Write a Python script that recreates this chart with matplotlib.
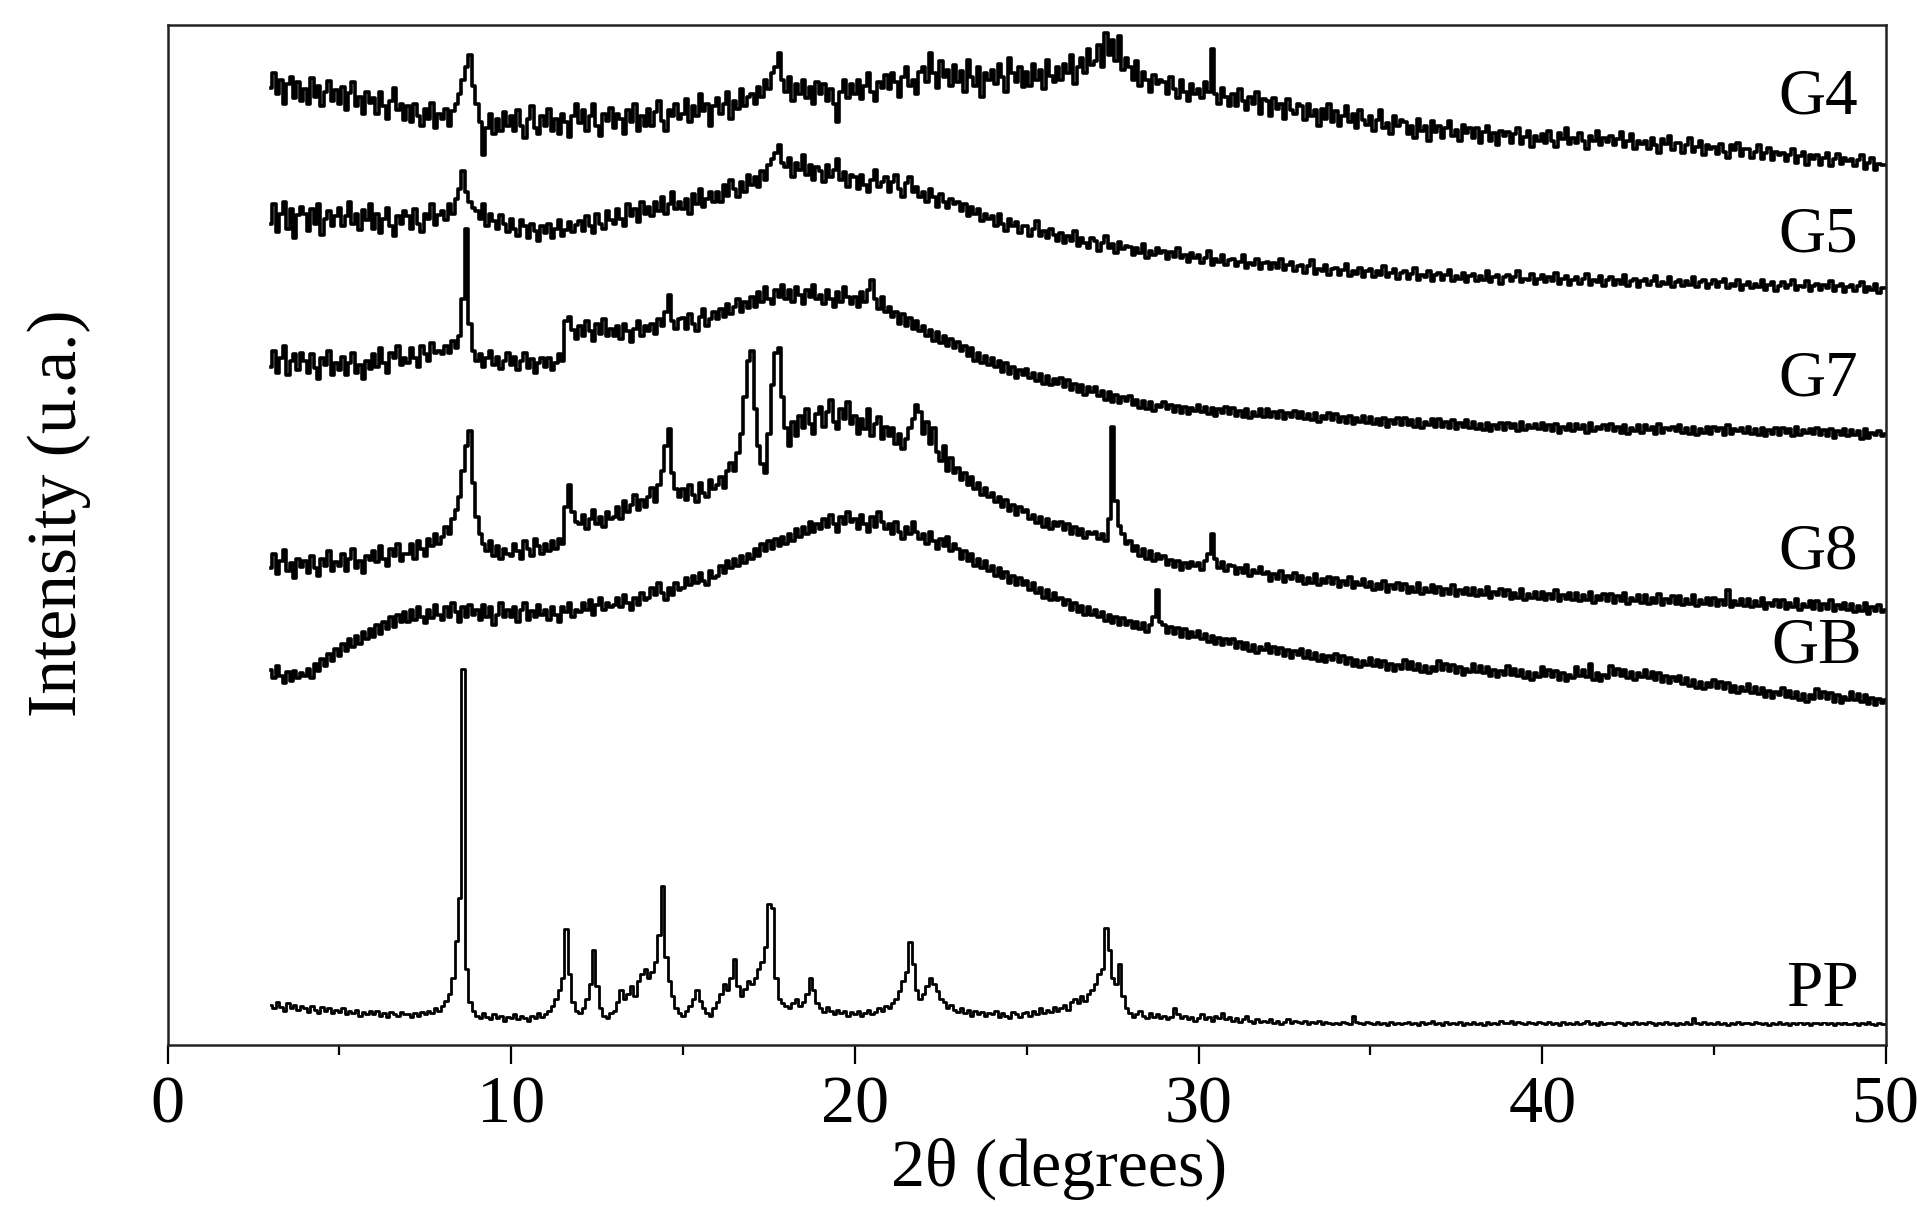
import numpy as np
import matplotlib
matplotlib.use('Agg')
import matplotlib.pyplot as plt

# XRD patterns, scan 3-50 deg 2theta, 0.1 deg step (offset stacked)
two_theta = np.linspace(3.0, 50.0, 471)

g4 = [
    783, 795, 778, 790, 770, 786, 792, 775, 788, 772,
    782, 770, 791, 776, 785, 768, 780, 789, 772, 781,
    770, 784, 765, 779, 788, 768, 776, 762, 780, 771,
    775, 762, 780, 768, 758, 772, 783, 765, 770, 757,
    768, 755, 770, 760, 752, 766, 758, 771, 750, 762,
    758, 766, 752, 764, 770, 778, 790, 800, 810, 785,
    770, 755, 728, 750, 762, 745, 758, 748, 763, 752,
    760, 748, 765, 752, 742, 758, 768, 750, 745, 760,
    752, 766, 748, 758, 745, 762, 755, 743, 760, 770,
    754, 765, 748, 760, 770, 752, 744, 762, 756, 767,
    750, 762, 758, 745, 765, 755, 770, 748, 760, 752,
    766, 752, 763, 772, 756, 748, 765, 760, 770, 758,
    762, 774, 755, 768, 760, 778, 764, 770, 752, 768,
    775, 762, 770, 780, 758, 772, 766, 782, 768, 776,
    778, 770, 784, 776, 790, 782, 795, 800, 812, 790,
    780, 792, 772, 786, 778, 790, 775, 784, 770, 788,
    778, 786, 772, 782, 770, 755, 780, 790, 775, 786,
    778, 790, 774, 785, 795, 780, 772, 788, 783, 794,
    782, 795, 788, 776, 792, 800, 785, 790, 778, 796,
    800, 788, 812, 795, 783, 805, 792, 798, 785, 802,
    788, 797, 780, 806, 792, 785, 800, 776, 795, 790,
    798, 786, 803, 792, 780, 808, 795, 788, 800, 784,
    796, 785, 803, 790, 798, 782, 806, 793, 788, 800,
    790, 803, 795, 810, 786, 800, 808, 795, 815, 802,
    805, 818, 800, 828, 810, 822, 805, 826, 798, 808,
    800, 790, 805, 785, 796, 790, 780, 794, 786, 790,
    788, 778, 792, 782, 775, 790, 780, 772, 786, 778,
    782, 775, 788, 780, 815, 778, 770, 783, 776, 768,
    778, 768, 782, 772, 765, 776, 770, 780, 762, 774,
    772, 760, 775, 766, 770, 758, 774, 765, 762, 770,
    768, 757, 770, 760, 765, 752, 766, 758, 770, 755,
    764, 752, 760, 768, 755, 762, 750, 765, 757, 753,
    760, 748, 757, 765, 750, 754, 745, 760, 752, 757,
    755, 745, 752, 742, 758, 748, 752, 740, 756, 747,
    752, 742, 750, 756, 744, 749, 740, 753, 746, 750,
    742, 750, 738, 747, 752, 740, 746, 736, 748, 744,
    747, 738, 745, 750, 737, 743, 748, 735, 744, 740,
    745, 738, 748, 740, 735, 746, 741, 750, 737, 742,
    738, 746, 740, 733, 744, 740, 748, 736, 742, 739,
    744, 736, 741, 747, 735, 740, 745, 733, 740, 737,
    740, 733, 742, 736, 730, 741, 737, 744, 732, 738,
    738, 730, 736, 742, 731, 735, 740, 728, 736, 733,
    735, 729, 737, 731, 726, 736, 732, 738, 727, 733,
    733, 726, 731, 736, 725, 730, 734, 724, 731, 728,
    730, 723, 728, 733, 722, 727, 731, 720, 728, 725,
    728, 720, 726, 730, 719, 725, 729, 721, 726, 723,
    725, 719, 724, 728, 717, 722, 726, 716, 721, 720,
    720,
]

g5 = [
    672, 688, 665, 680, 690, 668, 684, 660, 679, 686,
    680, 666, 684, 672, 688, 663, 676, 682, 670, 678,
    685, 670, 678, 690, 672, 680, 667, 683, 675, 688,
    668, 680, 664, 676, 685, 670, 662, 678, 672, 682,
    678, 668, 684, 672, 665, 680, 676, 688, 671, 679,
    682, 675, 688, 680, 692, 700, 715, 698, 690, 685,
    682, 676, 688, 670, 680, 674, 668, 679, 672, 665,
    676, 668, 662, 675, 670, 660, 672, 666, 658, 670,
    664, 672, 660, 668, 675, 662, 667, 673, 665, 671,
    674, 666, 678, 670, 664, 680, 672, 668, 682, 675,
    672, 684, 676, 670, 688, 678, 684, 673, 690, 680,
    686, 678, 690, 682, 694, 680, 688, 698, 684, 690,
    684, 692, 680, 696, 688, 700, 686, 692, 698, 690,
    698, 690, 704, 695, 708, 700, 694, 706, 698, 712,
    704, 710, 702, 715, 708, 720, 725, 730, 736, 722,
    718, 726, 710, 722, 716, 728, 712, 720, 708, 718,
    715, 706, 720, 710, 716, 725, 708, 714, 702, 712,
    710, 700, 712, 704, 698, 708, 716, 702, 706, 710,
    698, 706, 712, 700, 694, 705, 710, 698, 702, 694,
    698, 690, 700, 694, 686, 696, 690, 685, 692, 688,
    690, 682, 688, 678, 686, 680, 684, 674, 680, 676,
    678, 670, 680, 672, 666, 676, 670, 673, 664, 670,
    670, 662, 668, 674, 662, 666, 660, 668, 663, 658,
    664, 656, 662, 658, 666, 654, 660, 656, 652, 660,
    658, 650, 656, 662, 652, 655, 648, 657, 651, 654,
    653, 646, 652, 648, 655, 644, 650, 646, 652, 648,
    650, 643, 649, 645, 652, 644, 646, 641, 648, 644,
    646, 640, 644, 650, 638, 643, 641, 646, 638, 642,
    643, 637, 641, 646, 636, 640, 638, 643, 635, 640,
    641, 635, 640, 636, 643, 634, 638, 641, 633, 637,
    638, 632, 637, 642, 631, 635, 633, 638, 630, 635,
    636, 630, 634, 639, 629, 633, 631, 636, 628, 633,
    635, 628, 633, 630, 637, 628, 632, 635, 627, 632,
    633, 627, 631, 636, 626, 630, 628, 633, 625, 630,
    632, 626, 630, 634, 625, 629, 627, 632, 624, 629,
    631, 625, 629, 626, 633, 624, 628, 630, 623, 628,
    630, 625, 628, 633, 624, 627, 626, 631, 623, 627,
    630, 624, 628, 625, 632, 623, 627, 629, 622, 626,
    628, 623, 627, 631, 622, 626, 624, 629, 621, 626,
    628, 622, 626, 623, 630, 621, 625, 627, 620, 625,
    627, 622, 625, 629, 621, 624, 623, 628, 620, 624,
    626, 621, 625, 622, 628, 620, 624, 626, 619, 623,
    626, 620, 624, 627, 619, 623, 621, 626, 618, 622,
    624, 619, 623, 620, 626, 618, 622, 624, 617, 621,
    624, 619, 622, 626, 618, 621, 620, 625, 617, 621,
    623, 618, 622, 619, 625, 617, 621, 623, 616, 620,
    622, 617, 621, 624, 616, 620, 618, 623, 615, 619,
    619,
]

g7 = [
    555, 568, 550, 562, 572, 548, 560, 565, 552, 566,
    560, 550, 565, 554, 545, 562, 556, 568, 548, 558,
    552, 563, 548, 558, 566, 550, 556, 545, 560, 553,
    565, 555, 570, 558, 550, 566, 562, 572, 556, 562,
    558, 570, 562, 555, 572, 565, 560, 574, 566, 568,
    565, 572, 566, 576, 570, 580, 610, 668, 590, 568,
    560, 565, 555, 562, 568, 556, 563, 553, 560, 566,
    556, 563, 552, 560, 566, 554, 561, 550, 558, 562,
    555, 562, 552, 558, 565, 560, 592, 596, 585, 578,
    588, 580, 592, 584, 576, 590, 582, 594, 580, 586,
    580, 588, 578, 590, 584, 575, 586, 592, 580, 588,
    584, 590, 582, 594, 588, 600, 614, 592, 586, 594,
    595, 586, 598, 590, 584, 596, 602, 588, 594, 600,
    594, 602, 596, 606, 598, 604, 610, 600, 608, 603,
    612, 604, 616, 608, 620, 610, 606, 618, 612, 622,
    610, 618, 608, 620, 614, 606, 618, 612, 622, 610,
    614, 606, 618, 610, 604, 616, 608, 620, 612, 606,
    612, 604, 616, 608, 618, 626, 610, 602, 612, 600,
    604, 596, 600, 590, 598, 588, 595, 586, 592, 584,
    588, 580, 585, 576, 583, 574, 580, 572, 578, 570,
    575, 568, 572, 564, 570, 560, 566, 558, 564, 556,
    562, 555, 560, 551, 558, 549, 555, 546, 552, 548,
    553, 546, 550, 543, 549, 541, 547, 540, 545, 541,
    546, 538, 544, 536, 541, 534, 540, 532, 538, 534,
    538, 531, 535, 528, 534, 526, 532, 525, 530, 527,
    531, 524, 528, 521, 527, 520, 526, 519, 524, 522,
    526, 520, 524, 518, 523, 517, 522, 516, 521, 519,
    524, 518, 522, 516, 521, 515, 520, 517, 522, 516,
    521, 515, 519, 514, 520, 513, 518, 515, 520, 514,
    520, 514, 518, 513, 519, 512, 517, 514, 519, 513,
    518, 512, 516, 511, 517, 510, 515, 512, 517, 511,
    516, 510, 514, 509, 515, 508, 513, 510, 515, 509,
    514, 508, 512, 507, 513, 506, 511, 508, 513, 507,
    513, 507, 511, 506, 512, 505, 510, 507, 512, 506,
    512, 506, 510, 505, 511, 504, 509, 506, 511, 505,
    510, 504, 508, 503, 509, 502, 507, 504, 509, 503,
    509, 505, 508, 502, 510, 503, 507, 505, 508, 504,
    509, 503, 507, 502, 508, 501, 506, 503, 508, 502,
    508, 504, 507, 501, 509, 502, 506, 504, 507, 503,
    508, 502, 506, 501, 507, 500, 505, 502, 507, 501,
    507, 503, 506, 500, 508, 501, 505, 503, 506, 502,
    507, 501, 505, 500, 506, 499, 504, 501, 506, 500,
    506, 502, 505, 499, 507, 500, 504, 502, 505, 501,
    506, 500, 504, 499, 505, 498, 503, 500, 505, 499,
    505, 501, 504, 498, 506, 499, 503, 501, 504, 500,
    505, 499, 503, 498, 504, 497, 502, 499, 504, 498,
    503, 499, 502, 496, 504, 497, 501, 499, 502, 498,
    500,
]

g8 = [
    390, 402, 385, 396, 405, 388, 394, 382, 398, 391,
    396, 386, 400, 390, 384, 398, 392, 404, 388, 395,
    392, 402, 388, 398, 406, 390, 396, 386, 400, 397,
    404, 395, 408, 398, 392, 406, 400, 410, 396, 402,
    402, 410, 398, 412, 406, 400, 414, 408, 418, 410,
    416, 424, 418, 430, 438, 448, 470, 490, 502, 460,
    432, 418, 410, 404, 412, 400, 408, 398, 406, 402,
    400, 410, 404, 398, 412, 406, 400, 414, 408, 402,
    410, 404, 412, 406, 414, 410, 440, 458, 436, 428,
    426, 434, 422, 430, 438, 426, 432, 424, 436, 430,
    432, 440, 430, 445, 436, 442, 450, 438, 446, 440,
    448, 456, 444, 458, 470, 490, 504, 468, 455, 448,
    455, 446, 458, 450, 444, 460, 452, 448, 462, 455,
    458, 465, 456, 470, 476, 470, 484, 500, 530, 560,
    568, 520, 490, 475, 468, 500, 540, 566, 570, 530,
    505, 490, 510, 498, 515, 505, 520, 508, 500, 516,
    522, 506, 518, 528, 510, 504, 520, 512, 526, 508,
    515, 500, 512, 504, 520, 498, 508, 514, 496, 506,
    498, 505, 492, 500, 488, 496, 505, 512, 524, 518,
    500, 510, 492, 505, 485, 478, 490, 470, 480, 468,
    472, 462, 468, 458, 465, 455, 460, 450, 456, 448,
    452, 444, 448, 440, 446, 437, 442, 434, 440, 436,
    438, 430, 434, 427, 432, 424, 430, 422, 428, 425,
    428, 421, 426, 418, 424, 417, 422, 415, 420, 418,
    420, 414, 418, 412, 430, 506, 445, 425, 418, 410,
    412, 404, 408, 400, 406, 398, 404, 396, 402, 398,
    400, 393, 397, 391, 396, 389, 394, 390, 395, 392,
    394, 389, 396, 402, 418, 398, 390, 395, 388, 393,
    392, 385, 390, 386, 393, 384, 389, 386, 391, 385,
    387, 380, 385, 381, 388, 379, 384, 381, 386, 380,
    384, 377, 382, 378, 385, 376, 381, 378, 383, 377,
    382, 375, 380, 376, 383, 374, 379, 376, 381, 375,
    379, 372, 377, 373, 380, 371, 376, 373, 378, 372,
    377, 370, 375, 371, 378, 369, 374, 371, 376, 370,
    375, 368, 373, 369, 376, 367, 372, 369, 374, 368,
    374, 367, 372, 368, 375, 366, 371, 368, 373, 367,
    372, 365, 370, 366, 373, 364, 369, 366, 371, 365,
    371, 364, 369, 365, 372, 363, 368, 365, 370, 364,
    370, 363, 368, 364, 371, 362, 367, 364, 369, 363,
    369, 362, 367, 363, 370, 361, 366, 363, 368, 362,
    368, 361, 366, 362, 369, 360, 365, 362, 367, 361,
    367, 360, 365, 361, 368, 359, 364, 361, 366, 360,
    366, 359, 364, 360, 372, 358, 363, 360, 365, 359,
    365, 358, 363, 359, 366, 357, 362, 359, 364, 358,
    364, 357, 362, 358, 365, 356, 361, 358, 363, 357,
    363, 356, 361, 357, 364, 355, 360, 357, 362, 356,
    361, 354, 359, 355, 362, 353, 358, 355, 360, 354,
    356,
]

gb = [
    307, 300, 310, 302, 296, 305, 298, 306, 300, 304,
    302, 308, 300, 312, 306, 316, 310, 320, 314, 324,
    318, 328, 322, 332, 326, 335, 328, 338, 332, 340,
    334, 344, 336, 346, 340, 350, 342, 352, 346, 354,
    346, 356, 348, 358, 350, 345, 356, 349, 360, 352,
    348, 358, 350, 362, 354, 346, 358, 350, 360, 352,
    356, 348, 360, 350, 358, 344, 352, 362, 350, 356,
    350, 358, 346, 356, 362, 348, 355, 350, 360, 352,
    356, 348, 358, 352, 346, 358, 354, 362, 350, 356,
    354, 362, 356, 364, 352, 360, 366, 356, 362, 358,
    360, 366, 358, 368, 362, 356, 366, 360, 370, 364,
    366, 374, 368, 378, 370, 364, 374, 368, 378, 372,
    374, 382, 376, 384, 378, 386, 380, 376, 388, 382,
    384, 392, 386, 396, 390, 398, 392, 400, 394, 402,
    398, 406, 400, 410, 404, 412, 406, 414, 408, 416,
    410, 418, 412, 422, 416, 424, 418, 428, 420, 426,
    422, 430, 424, 434, 426, 420, 432, 426, 436, 428,
    430, 422, 434, 426, 420, 432, 424, 436, 428, 422,
    426, 418, 428, 420, 414, 424, 418, 428, 420, 414,
    418, 410, 420, 412, 406, 414, 408, 416, 404, 410,
    406, 398, 404, 396, 402, 392, 398, 390, 396, 388,
    392, 384, 390, 382, 387, 378, 384, 376, 382, 376,
    380, 372, 378, 370, 374, 366, 372, 364, 370, 364,
    366, 360, 364, 356, 362, 354, 359, 352, 358, 352,
    356, 350, 354, 347, 352, 345, 350, 344, 349, 344,
    347, 341, 346, 340, 345, 338, 344, 350, 372, 346,
    344, 337, 342, 336, 341, 334, 340, 333, 338, 334,
    339, 332, 336, 330, 335, 328, 333, 327, 332, 328,
    332, 325, 330, 324, 329, 322, 327, 321, 326, 323,
    328, 321, 326, 320, 325, 318, 323, 317, 322, 319,
    324, 317, 322, 316, 321, 314, 319, 313, 318, 315,
    320, 313, 318, 312, 317, 310, 315, 309, 314, 311,
    317, 310, 315, 309, 314, 307, 312, 306, 311, 308,
    315, 308, 313, 307, 312, 305, 310, 304, 309, 306,
    314, 307, 312, 306, 311, 304, 309, 303, 308, 305,
    312, 305, 310, 304, 309, 302, 307, 301, 306, 303,
    310, 303, 308, 302, 307, 300, 305, 299, 304, 301,
    309, 302, 307, 301, 306, 299, 304, 298, 303, 300,
    309, 302, 307, 301, 312, 299, 304, 298, 303, 300,
    310, 303, 308, 302, 307, 300, 305, 299, 304, 301,
    307, 300, 305, 299, 304, 297, 302, 296, 301, 298,
    302, 295, 300, 294, 299, 292, 297, 291, 296, 293,
    299, 292, 297, 291, 296, 289, 294, 288, 293, 290,
    295, 288, 293, 287, 292, 285, 290, 284, 289, 286,
    292, 285, 290, 284, 289, 282, 287, 281, 286, 283,
    291, 284, 289, 283, 288, 281, 286, 280, 285, 282,
    289, 282, 287, 281, 286, 279, 284, 278, 283, 280,
    282,
]

pp = [
    33, 30, 35, 31, 28, 34, 30, 33, 29, 32,
    30, 27, 32, 29, 26, 31, 28, 30, 26, 29,
    27, 30, 25, 28, 26, 29, 24, 27, 25, 28,
    25, 28, 24, 26, 23, 27, 25, 24, 27, 25,
    25, 23, 26, 24, 27, 25, 28, 26, 30, 28,
    32, 36, 42, 55, 85, 120, 308, 62, 35, 28,
    24, 22, 26, 23, 21, 25, 22, 24, 20, 23,
    22, 25, 21, 24, 22, 20, 24, 22, 26, 23,
    25, 28, 32, 38, 45, 55, 95, 58, 35, 28,
    26, 30, 38, 50, 78, 48, 30, 24, 22, 26,
    28, 35, 45, 38, 42, 48, 40, 52, 58, 62,
    55, 60, 68, 90, 130, 72, 52, 40, 30, 26,
    24, 28, 32, 38, 45, 36, 30, 26, 24, 30,
    35, 42, 50, 45, 55, 70, 48, 40, 46, 52,
    50, 55, 62, 68, 80, 115, 112, 55, 38, 34,
    32, 30, 34, 38, 32, 35, 42, 55, 45, 34,
    30, 27, 31, 28, 25, 29, 26, 28, 24, 27,
    25, 28, 24, 26, 29, 25, 27, 30, 28, 32,
    30, 34, 38, 44, 52, 60, 84, 66, 45, 38,
    42, 48, 55, 50, 44, 38, 35, 30, 33, 29,
    27, 30, 26, 29, 24, 28, 25, 27, 24, 26,
    25, 28, 23, 26, 24, 22, 27, 25, 23, 26,
    27, 24, 28, 25, 30, 26, 29, 27, 31, 28,
    30, 33, 29, 35, 38, 34, 40, 36, 42, 45,
    50, 58, 62, 96, 78, 55, 50, 66, 40, 30,
    26, 23, 25, 28, 24, 22, 26, 23, 25, 22,
    24, 21, 23, 30, 25, 22, 24, 21, 23, 20,
    22, 25, 21, 23, 20, 24, 22, 26, 21, 23,
    20, 22, 19, 21, 24, 20, 18, 21, 19, 20,
    19, 21, 18, 20, 17, 19, 21, 18, 20, 19,
    18, 20, 17, 19, 18, 20, 17, 19, 18, 17,
    18, 17, 19, 18, 17, 24, 19, 18, 17, 19,
    18, 17, 19, 17, 18, 16, 19, 17, 18, 17,
    18, 19, 17, 18, 16, 19, 17, 18, 20, 17,
    18, 16, 19, 17, 18, 17, 19, 16, 18, 17,
    19, 17, 18, 16, 19, 17, 18, 17, 20, 18,
    18, 20, 17, 19, 18, 17, 19, 18, 17, 19,
    18, 17, 19, 17, 18, 16, 19, 17, 18, 17,
    19, 17, 18, 20, 17, 18, 16, 19, 17, 18,
    18, 17, 19, 18, 16, 18, 17, 19, 17, 18,
    17, 19, 18, 16, 18, 17, 19, 17, 18, 16,
    18, 17, 19, 17, 22, 18, 17, 19, 17, 18,
    17, 19, 17, 18, 16, 18, 17, 19, 17, 18,
    18, 17, 19, 18, 17, 18, 16, 18, 17, 19,
    17, 18, 16, 18, 17, 19, 17, 18, 16, 18,
    18, 17, 19, 17, 18, 16, 18, 17, 19, 17,
    17, 18, 16, 18, 17, 19, 17, 16, 18, 17,
    17,
]

series_names = ['G4', 'G5', 'G7', 'G8', 'GB', 'PP']
series_data = [g4, g5, g7, g8, gb, pp]
series_lw = [2.6, 2.6, 2.6, 2.6, 2.6, 2.0]
# label anchor (2theta, intensity) for each curve name
label_pos = [(49.2, 775), (49.2, 662), (49.2, 544), (49.2, 403), (49.3, 326), (49.2, 45)]

x_ticks = [0, 10, 20, 30, 40, 50]
x_minor = [5, 15, 25, 35, 45]

serif = ['Liberation Serif', 'DejaVu Serif']

fig = plt.figure(figsize=(19.17, 12.07), dpi=100)
ax = fig.add_axes([0.0874, 0.1342, 0.8964, 0.8455])

for name, vals, lw in zip(series_names, series_data, series_lw):
    if len(vals) != len(two_theta):
        raise ValueError('%s has %d points' % (name, len(vals)))
    ax.plot(two_theta, vals, color='black', lw=lw, drawstyle='steps-mid')

for name, (lx, ly) in zip(series_names, label_pos):
    ax.text(lx, ly, name, ha='right', va='center', fontsize=47, family=serif,
            bbox=dict(facecolor='white', edgecolor='none', pad=2), zorder=5)

ax.set_xlim(0, 50)
ax.set_ylim(0, 835)
ax.set_xticks(x_ticks)
ax.set_xticks(x_minor, minor=True)
ax.set_yticks([])
ax.tick_params(axis='x', which='major', direction='out', length=14, width=1.6,
               pad=8, labelsize=49)
ax.tick_params(axis='x', which='minor', direction='out', length=7, width=1.6)
for lab in ax.get_xticklabels():
    lab.set_family(serif)
for sp in ax.spines.values():
    sp.set_linewidth(1.8)
    sp.set_color('#222222')

fig.text(0.5524, 0.032, '2θ (degrees)', ha='center', va='center', fontsize=49, family=serif)
fig.text(0.031, 0.575, 'Intensity (u.a.)', ha='center', va='center', rotation=90,
         fontsize=50, family=serif)

fig.savefig('out.png', dpi=100)
